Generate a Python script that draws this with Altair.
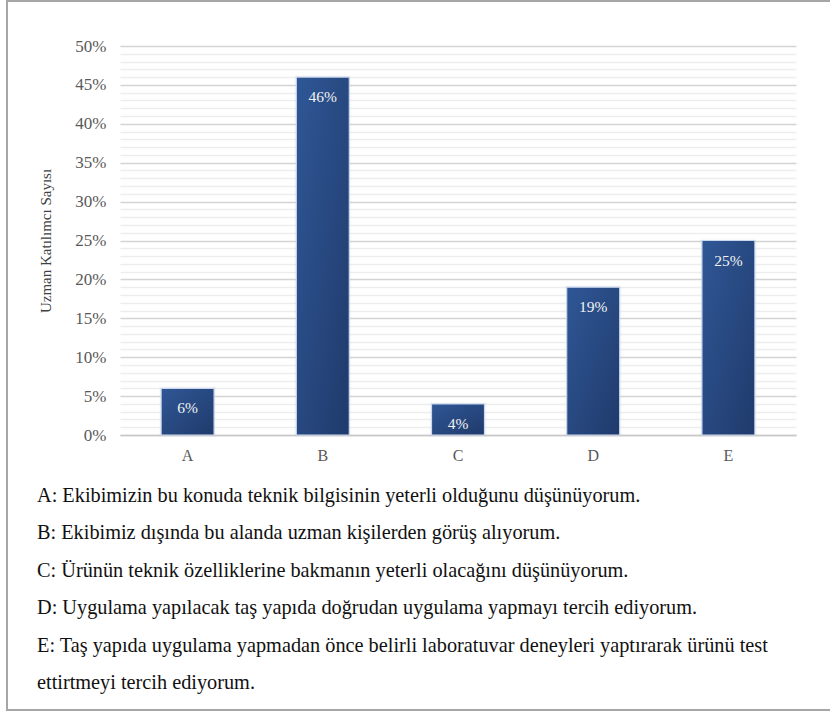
import altair as alt
import pandas as pd

# Survey answers (share of expert respondents per option)
categories = ["A", "B", "C", "D", "E"]
shares = [0.06, 0.46, 0.04, 0.19, 0.25]

# Option descriptions printed under the chart
descriptions = [
    "A: Ekibimizin bu konuda teknik bilgisinin yeterli olduğunu düşünüyorum.",
    "B: Ekibimiz dışında bu alanda uzman kişilerden görüş alıyorum.",
    "C: Ürünün teknik özelliklerine bakmanın yeterli olacağını düşünüyorum.",
    "D: Uygulama yapılacak taş yapıda doğrudan uygulama yapmayı tercih ediyorum.",
    "E: Taş yapıda uygulama yapmadan önce belirli laboratuvar deneyleri yaptırarak ürünü test",
    "ettirtmeyi tercih ediyorum.",
]

y_title = "Uzman Katılımcı Sayısı"

# Gridline positions: every 1 %, labelled every 5 %
grid_values = [i / 100 for i in range(51)]

SERIF = "Liberation Serif"
W, H = 676, 389

df = pd.DataFrame({"cat": categories, "share": shares})

x_enc = alt.X(
    "cat:N",
    sort=categories,
    title=None,
    scale=alt.Scale(paddingInner=0.608, paddingOuter=0.304),
    axis=alt.Axis(
        labelAngle=0,
        labelFont=SERIF,
        labelFontSize=16,
        labelColor="#595959",
        labelPadding=12,
        ticks=False,
        domainColor="#c8c8c8",
        domainWidth=1.5,
        grid=False,
    ),
)

major = "round(datum.value * 100) % 5 == 0"

y_enc = alt.Y(
    "share:Q",
    scale=alt.Scale(domain=[0, 0.5], nice=False),
    axis=alt.Axis(
        values=grid_values,
        labelExpr=major + " ? format(datum.value, '.0%') : ''",
        labelOverlap=False,
        labelFont=SERIF,
        labelFontSize=17,
        labelColor="#595959",
        labelPadding=14,
        ticks=False,
        domain=False,
        grid=True,
        gridColor={"condition": {"test": major, "value": "#d4d4d4"}, "value": "#ededed"},
        gridWidth={"condition": {"test": major, "value": 1.6}, "value": 1.4},
        title=y_title,
        titleFont=SERIF,
        titleFontSize=15,
        titleFontWeight="normal",
        titleColor="#404040",
        titleX=-75,
        titleY=H / 2,
        titleAngle=-90,
        titleBaseline="middle",
        titleAlign="center",
    ),
)

base = alt.Chart(df)

# soft shadow behind each bar
shadow = base.mark_bar(
    fill="#000000",
    opacity=0.12,
    stroke="#888888",
    strokeOpacity=0.25,
    strokeWidth=4,
).encode(x=x_enc, y=y_enc)

bars = base.mark_bar(
    color=alt.LinearGradient(
        gradient="linear",
        stops=[
            alt.GradientStop(color="#2f5796", offset=0),
            alt.GradientStop(color="#203a6b", offset=1),
        ],
        x1=0, x2=1, y1=0, y2=1,
    ),
    stroke="#c9d8ee",
    strokeWidth=1.2,
).encode(x=x_enc, y=y_enc)

labels = base.mark_text(
    font=SERIF,
    fontSize=15.5,
    color="#f2f2f2",
    baseline="middle",
    dy=20,
).encode(
    x=x_enc,
    y=y_enc,
    text=alt.Text("share:Q", format=".0%"),
)

layers = [shadow, bars, labels]

# option descriptions below the plot
for i, line in enumerate(descriptions):
    layers.append(
        alt.Chart(alt.Data(values=[{}]))
        .mark_text(font=SERIF, fontSize=20.3, color="#111111", align="left", baseline="middle")
        .encode(x=alt.value(-83), y=alt.value(450 + i * 37.4), text=alt.value(line))
    )

# outer frame
layers.append(
    alt.Chart(alt.Data(values=[{}]))
    .mark_rect(fill=None, stroke="#a6a6a6", strokeWidth=2)
    .encode(x=alt.value(-113), x2=alt.value(725), y=alt.value(-45), y2=alt.value(664))
)

chart = (
    alt.layer(*layers)
    .properties(
        width=W,
        height=H,
        autosize="none",
        padding={"left": 120, "top": 46, "right": 34, "bottom": 280},
        background="white",
    )
    .configure_view(stroke=None)
)

chart.save("out.html", embed_options={"renderer": "svg", "actions": False})
